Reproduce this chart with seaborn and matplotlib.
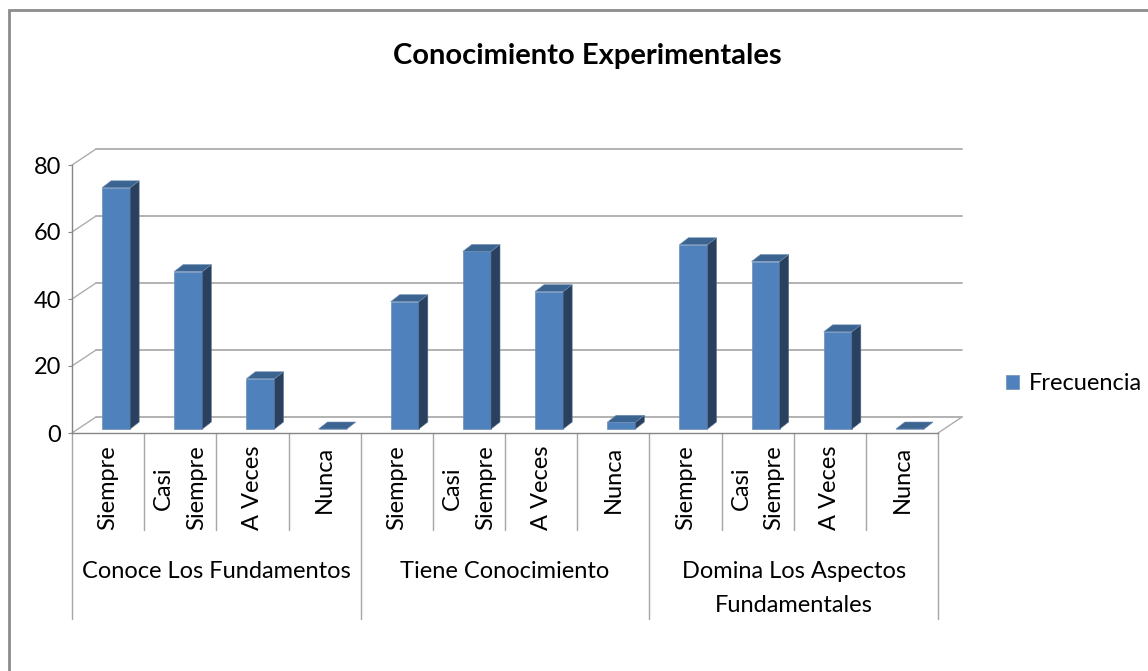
import numpy as np
import pandas as pd
import matplotlib
matplotlib.use('Agg')
import matplotlib.pyplot as plt
import matplotlib.transforms as mtransforms
from matplotlib.patches import Polygon, Rectangle
from matplotlib.lines import Line2D
import seaborn as sns

# --- DATA ---
grupos = ['Conoce Los Fundamentos', 'Tiene Conocimiento', 'Domina Los Aspectos\nFundamentales']
respuestas = ['Siempre', 'Casi\nSiempre', 'A Veces', 'Nunca']
frecuencia = [72, 47, 15, 0,
              38, 53, 41, 2,
              55, 50, 29, 0]
yticks = [0, 20, 40, 60, 80]
titulo = 'Conocimiento Experimentales'
serie = 'Frecuencia'

df = pd.DataFrame({
    'pos': np.arange(len(frecuencia)),
    'grupo': np.repeat(grupos, len(respuestas)),
    'respuesta': respuestas * len(grupos),
    'frecuencia': frecuencia,
})

# --- STYLE ---
sns.set_style('white')
plt.rcParams['font.family'] = ['Lato', 'DejaVu Sans']
plt.rcParams['text.color'] = 'black'
plt.rcParams['xtick.labelcolor'] = 'black'
plt.rcParams['ytick.labelcolor'] = 'black'

FRONT = '#4F81BD'
SIDE = '#29415F'
TOP = '#3C6491'
GRID = '#ADADAD'
AXIS = '#868686'

W, H = 1148, 671
fig = plt.figure(figsize=(W / 100, H / 100), dpi=100)

# axes = front plane of the 3D box (pixel coords)
x_left, x_right, y_top, y_bot = 72, 938, 165, 433
ax = fig.add_axes([x_left / W, 1 - y_bot / H, (x_right - x_left) / W, (y_bot - y_top) / H])
ax.patch.set_alpha(0)

sns.barplot(data=df, x='pos', y='frecuencia', color=FRONT, width=0.39,
            saturation=1, ax=ax, zorder=3, label=serie)
ax.set_xlim(-0.5, len(frecuencia) - 0.5)
ax.set_ylim(0, 80)

fig.canvas.draw()
ident = mtransforms.IdentityTransform()

# bars sit a bit inside the box depth
shift = mtransforms.ScaledTranslation(8 / 100, 4 / 100, fig.dpi_scale_trans)
dx, dy = 9, 7  # bar depth in pixels
for p in ax.patches:
    p.set_transform(ax.transData + shift)
    p.set_edgecolor('#6f8fb8')
    p.set_linewidth(0.5)
    x0, y0 = p.get_x(), p.get_y()
    x1, y1 = x0 + p.get_width(), y0 + p.get_height()
    (px0, py0), (px1, py1) = (ax.transData + shift).transform([(x0, y0), (x1, y1)])
    side = [(px1, py0), (px1, py1), (px1 + dx, py1 + dy), (px1 + dx, py0 + dy)]
    top = [(px0, py1), (px1, py1), (px1 + dx, py1 + dy), (px0 + dx, py1 + dy)]
    ax.add_patch(Polygon(side, closed=True, facecolor=SIDE, edgecolor='#5a6f8a', lw=0.4,
                         transform=ident, clip_on=False, zorder=3))
    ax.add_patch(Polygon(top, closed=True, facecolor=TOP, edgecolor='#6f8fb8', lw=0.4,
                         transform=ident, clip_on=False, zorder=3))

# back wall gridlines + left wall diagonals
wx, wy = 24, 16
lx, rx = ax.transData.transform([(-0.5, 0), (len(frecuencia) - 0.5, 0)])[:, 0]
for v in yticks:
    yy = ax.transData.transform((0, v))[1]
    ax.add_line(Line2D([lx + wx, rx + wx], [yy + wy, yy + wy], color=GRID, lw=1.3,
                       transform=ident, clip_on=False, zorder=1))
    ax.add_line(Line2D([lx, lx + wx], [yy, yy + wy], color=GRID, lw=1.0,
                       transform=ident, clip_on=False, zorder=1))
y0 = ax.transData.transform((0, 0))[1]
ax.add_line(Line2D([rx, rx + wx], [y0, y0 + wy], color=GRID, lw=1.0,
                   transform=ident, clip_on=False, zorder=1))

# axes look
for s in ['top', 'right']:
    ax.spines[s].set_visible(False)
for s in ['left', 'bottom']:
    ax.spines[s].set_color(AXIS)
    ax.spines[s].set_linewidth(1.0)
ax.set_yticks(yticks)
ax.tick_params(axis='y', length=3, color=AXIS, labelsize=17, pad=5, left=True)
ax.set_xticks(df['pos'])
ax.set_xticklabels(df['respuesta'], rotation=90, ha='center', va='top',
                   multialignment='center', linespacing=1.7)
ax.tick_params(axis='x', length=0, labelsize=17, pad=9)
ax.set_xlabel('')
ax.set_ylabel('')

# category separators below the floor
bt = mtransforms.blended_transform_factory(ax.transData, ax.transAxes)
ah = y_bot - y_top
n = len(respuestas)
for i in range(len(frecuencia) + 1):
    ylow = -(619 - y_bot) / ah if i % n == 0 else -(530 - y_bot) / ah
    ax.add_line(Line2D([i - 0.5, i - 0.5], [0, ylow], color='#A6A6A6', lw=1.0,
                       transform=bt, clip_on=False))
for g, name in enumerate(grupos):
    ax.text(g * n + (n - 1) / 2, -(561 - y_bot) / ah, name, transform=bt,
            ha='center', va='top', fontsize=17, linespacing=1.75)

# title, legend, outer frame
fig.text(587 / W, 1 - 64 / H, titulo, ha='center', va='baseline',
         fontsize=21, fontweight='bold')
handles, labels = ax.get_legend_handles_labels()
leg = ax.get_legend()
if leg is not None:
    leg.remove()
fig.legend(handles[:1], [serie], loc='center left', bbox_to_anchor=(1006 / W, 1 - 384 / H),
           frameon=False, fontsize=17, handlelength=0.55, handleheight=0.55,
           handletextpad=0.4, borderpad=0, borderaxespad=0)
fig.add_artist(Rectangle((9 / W, -0.1), 1.2, 1 - 10 / H + 0.1, transform=fig.transFigure,
                         fill=False, edgecolor='#8C8C8C', lw=2))

fig.savefig('out.png', dpi=100)
